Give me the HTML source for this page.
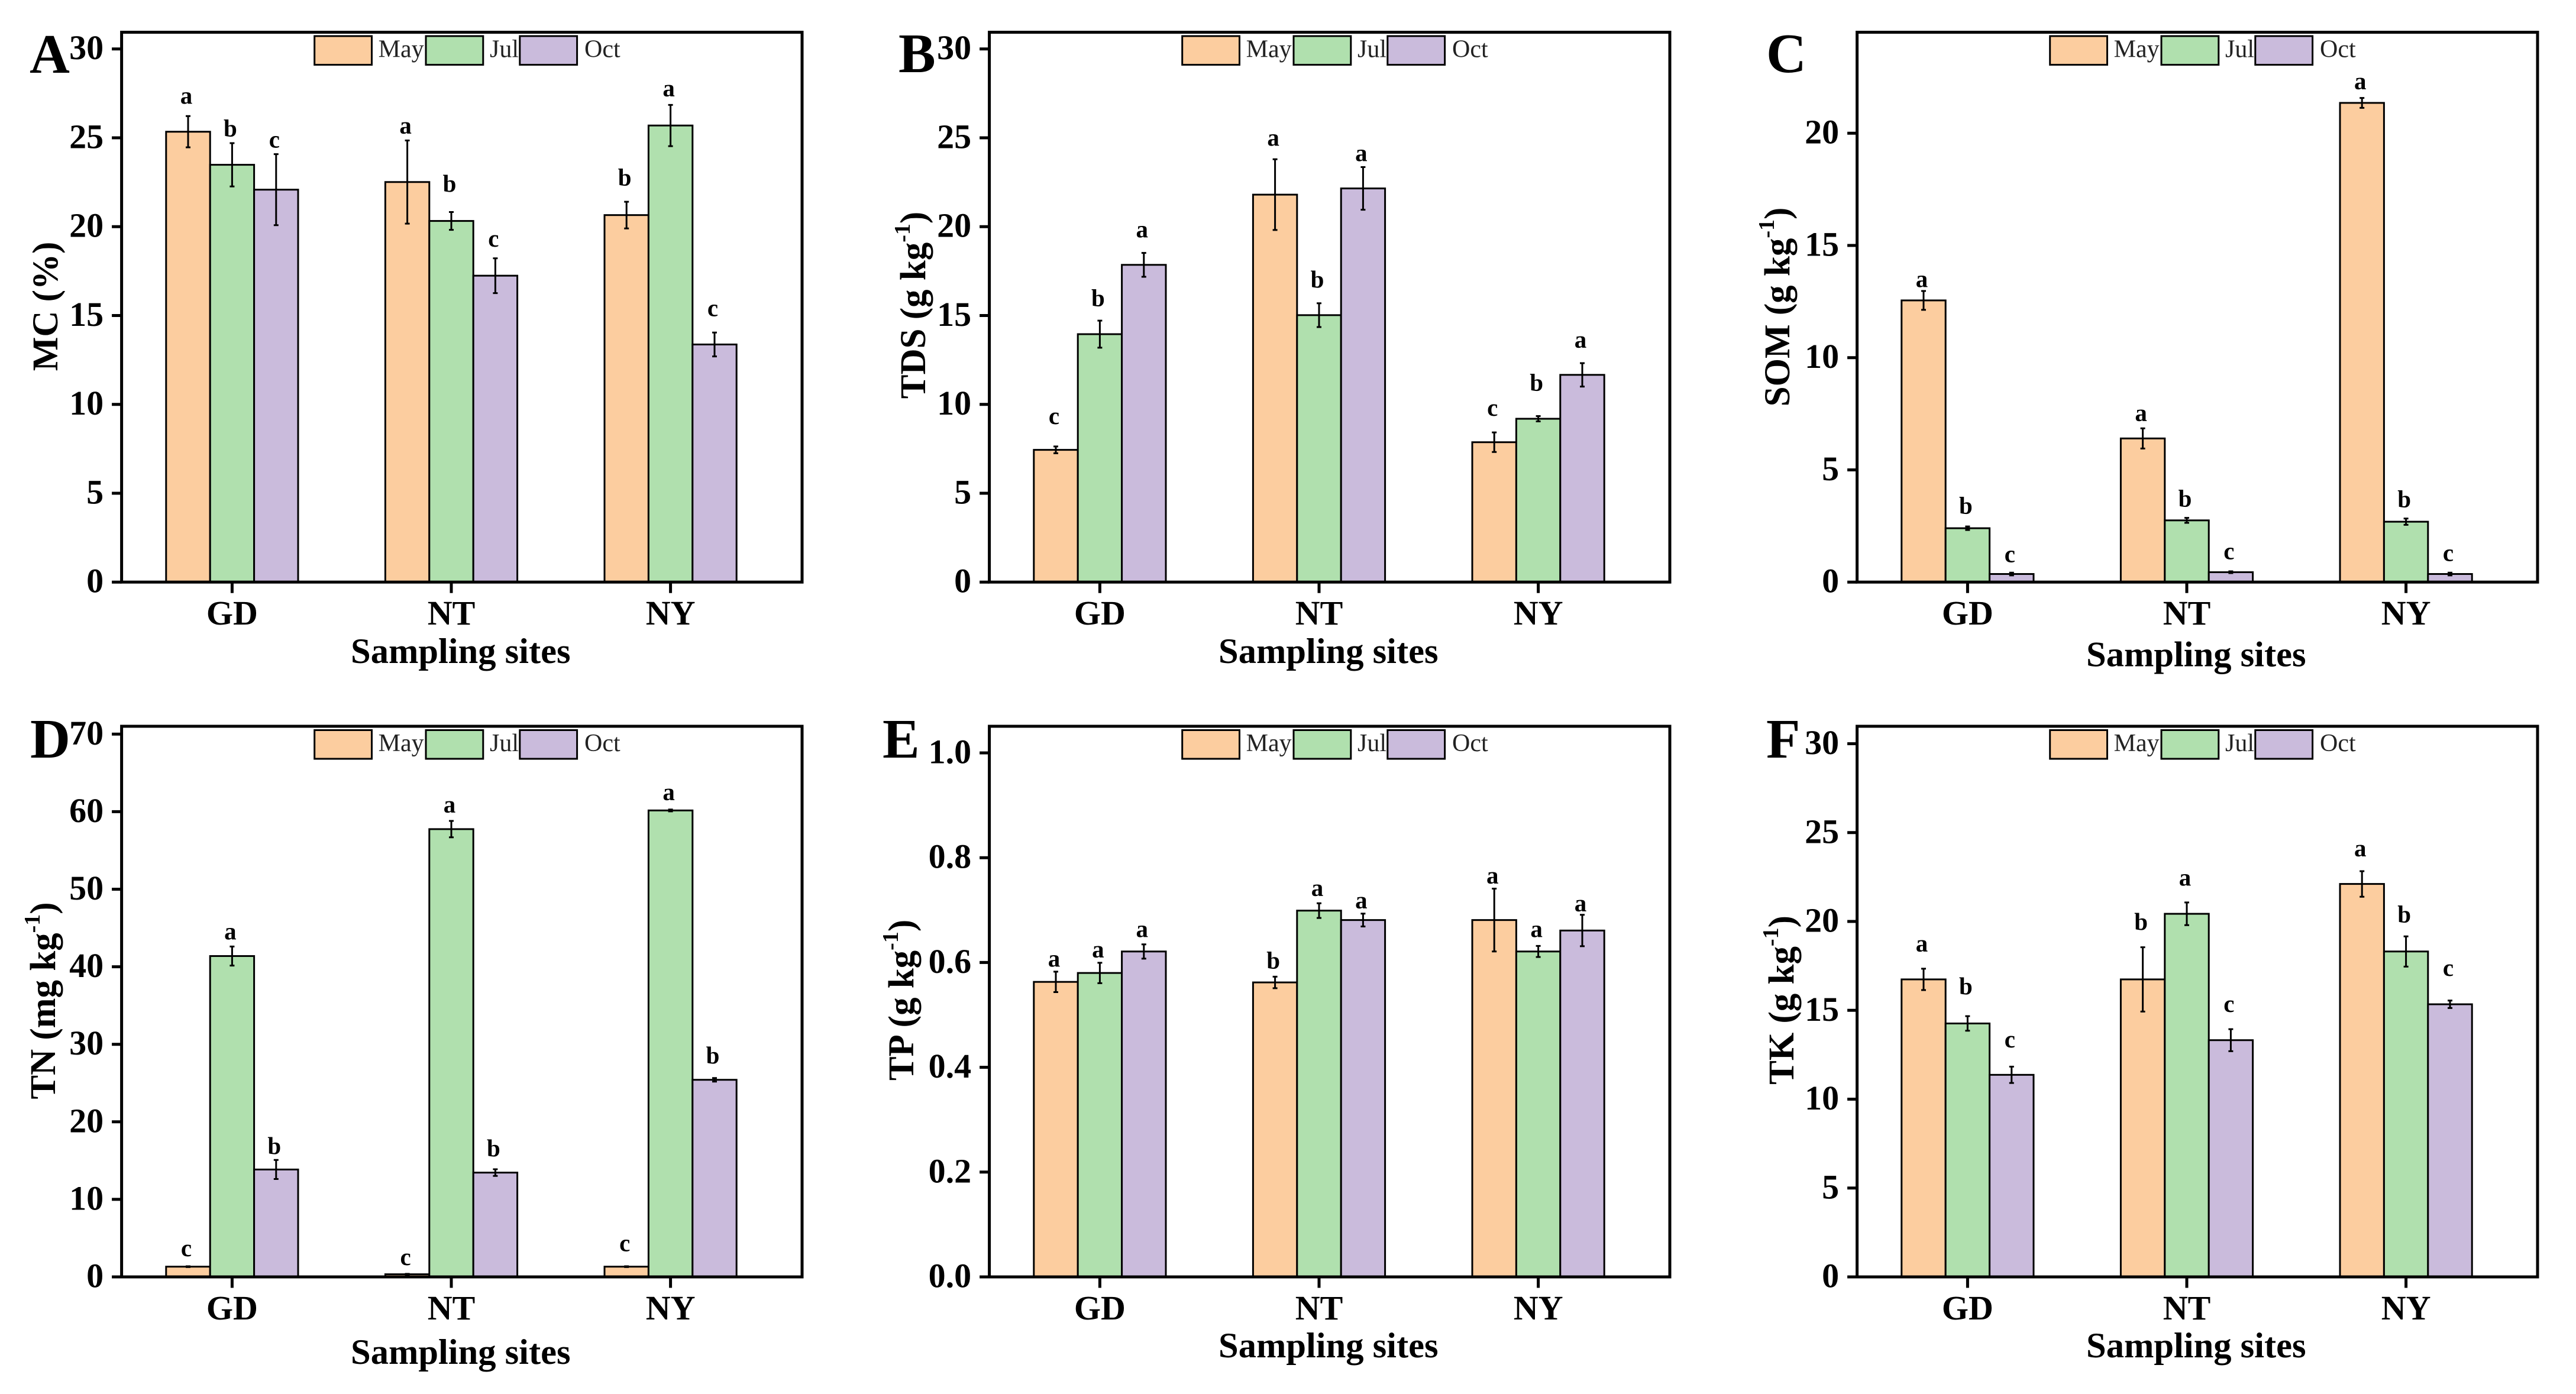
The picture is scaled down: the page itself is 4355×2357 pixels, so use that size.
<!DOCTYPE html>
<html lang="en">
<head>
<meta charset="utf-8">
<title>Soil properties by sampling site and month</title>
<style>
html,body{margin:0;padding:0;background:#fff;}
svg{display:block;font-family:"Liberation Serif",serif;}
</style>
</head>
<body>
<svg id="figure" xmlns="http://www.w3.org/2000/svg" width="4355" height="2357" viewBox="0 0 4355 2357"></svg>
<script>
const categories = ['GD', 'NT', 'NY'];
const seasons = ['May', 'Jul', 'Oct'];

const mcMay = [25.34, 22.51, 20.65];
const mcJul = [23.48, 20.32, 25.69];
const mcOct = [22.08, 17.24, 13.37];
const mcErrMay = [0.88, 2.34, 0.75];
const mcErrJul = [1.22, 0.50, 1.16];
const mcErrOct = [2.00, 0.98, 0.67];
const mcLetterMay = ['a', 'a', 'b'];
const mcLetterJul = ['b', 'b', 'a'];
const mcLetterOct = ['c', 'c', 'c'];
const mcClearMay = [1.02, 0.71, 1.25];
const mcClearJul = [0.71, 1.48, 0.81];
const mcClearOct = [0.71, 0.99, 1.25];
const mcTicks = ['0', '5', '10', '15', '20', '25', '30'];

const tdsMay = [7.44, 21.80, 7.87];
const tdsJul = [13.95, 15.02, 9.19];
const tdsOct = [17.85, 22.15, 11.66];
const tdsErrMay = [0.19, 1.99, 0.55];
const tdsErrJul = [0.76, 0.67, 0.15];
const tdsErrOct = [0.67, 1.20, 0.66];
const tdsLetterMay = ['c', 'a', 'c'];
const tdsLetterJul = ['b', 'b', 'b'];
const tdsLetterOct = ['a', 'a', 'a'];
const tdsClearMay = [1.60, 1.09, 1.27];
const tdsClearJul = [1.15, 1.22, 1.76];
const tdsClearOct = [1.20, 0.66, 1.20];
const tdsTicks = ['0', '5', '10', '15', '20', '25', '30'];

const somMay = [12.55, 6.40, 21.35];
const somJul = [2.40, 2.75, 2.69];
const somOct = [0.36, 0.44, 0.36];
const somErrMay = [0.42, 0.45, 0.22];
const somErrJul = [0.08, 0.11, 0.14];
const somErrOct = [0.06, 0.04, 0.06];
const somLetterMay = ['a', 'a', 'a'];
const somLetterJul = ['b', 'b', 'b'];
const somLetterOct = ['c', 'c', 'c'];
const somClearMay = [0.44, 0.59, 0.65];
const somClearJul = [0.83, 0.77, 0.77];
const somClearOct = [0.73, 0.80, 0.79];
const somTicks = ['0', '5', '10', '15', '20'];

const tnMay = [1.32, 0.34, 1.32];
const tnJul = [41.38, 57.75, 60.16];
const tnOct = [13.85, 13.45, 25.42];
const tnErrMay = [0.05, 0.05, 0.05];
const tnErrJul = [1.23, 1.06, 0.12];
const tnErrOct = [1.23, 0.43, 0.23];
const tnLetterMay = ['c', 'c', 'c'];
const tnLetterJul = ['a', 'a', 'a'];
const tnLetterOct = ['b', 'b', 'b'];
const tnClearMay = [2.06, 1.90, 2.70];
const tnClearJul = [1.66, 1.83, 1.95];
const tnClearOct = [1.55, 2.46, 2.63];
const tnTicks = ['0', '10', '20', '30', '40', '50', '60', '70'];

const tpMay = [0.563, 0.562, 0.681];
const tpJul = [0.580, 0.699, 0.621];
const tpOct = [0.621, 0.681, 0.661];
const tpErrMay = [0.0195, 0.011, 0.060];
const tpErrJul = [0.0195, 0.014, 0.0106];
const tpErrOct = [0.0136, 0.0123, 0.030];
const tpLetterMay = ['a', 'b', 'a'];
const tpLetterJul = ['a', 'a', 'a'];
const tpLetterOct = ['a', 'a', 'a'];
const tpClearMay = [0.021, 0.027, 0.021];
const tpClearJul = [0.021, 0.025, 0.028];
const tpClearOct = [0.025, 0.021, 0.018];
const tpTicks = ['0.0', '0.2', '0.4', '0.6', '0.8', '1.0'];

const tkMay = [16.74, 16.74, 22.11];
const tkJul = [14.26, 20.43, 18.31];
const tkOct = [11.37, 13.32, 15.34];
const tkErrMay = [0.60, 1.81, 0.72];
const tkErrJul = [0.41, 0.64, 0.85];
const tkErrOct = [0.46, 0.62, 0.21];
const tkLetterMay = ['a', 'b', 'a'];
const tkLetterJul = ['b', 'a', 'b'];
const tkLetterOct = ['c', 'c', 'c'];
const tkClearMay = [1.30, 1.32, 1.17];
const tkClearJul = [1.57, 1.27, 1.12];
const tkClearOct = [1.42, 1.30, 1.72];
const tkTicks = ['0', '5', '10', '15', '20', '25', '30'];

const seasonColors = ['#FCCD9F', '#B0E0AE', '#CABBDC'];
const SVGNS = 'http://www.w3.org/2000/svg';
const figure = document.getElementById('figure');

const panels = [
  { key: 'a', letter: 'A', dx: 0, top: 54.5, base: 984.2, unit: 30.05, lx: 50, ly: 123, title: 'MC (%)', sup: false, tx: 97, ty: 518, xt: 1121, xl: 1056,
    vals: [mcMay, mcJul, mcOct], errs: [mcErrMay, mcErrJul, mcErrOct], letters: [mcLetterMay, mcLetterJul, mcLetterOct], clears: [mcClearMay, mcClearJul, mcClearOct], ticks: mcTicks },
  { key: 'b', letter: 'B', dx: 1467, top: 54.5, base: 984.2, unit: 30.05, lx: 1519, ly: 122, title: 'TDS (g kg', sup: true, tx: 1564, ty: 516, xt: 1121, xl: 1056,
    vals: [tdsMay, tdsJul, tdsOct], errs: [tdsErrMay, tdsErrJul, tdsErrOct], letters: [tdsLetterMay, tdsLetterJul, tdsLetterOct], clears: [tdsClearMay, tdsClearJul, tdsClearOct], ticks: tdsTicks },
  { key: 'c', letter: 'C', dx: 2934, top: 54.5, base: 984.2, unit: 37.95, lx: 2986, ly: 122, title: 'SOM (g kg', sup: true, tx: 3025, ty: 519, xt: 1126.5, xl: 1056,
    vals: [somMay, somJul, somOct], errs: [somErrMay, somErrJul, somErrOct], letters: [somLetterMay, somLetterJul, somLetterOct], clears: [somClearMay, somClearJul, somClearOct], ticks: somTicks },
  { key: 'd', letter: 'D', dx: 0, top: 1228, base: 2159, unit: 13.11, lx: 51, ly: 1281, title: 'TN (mg kg', sup: true, tx: 93, ty: 1692, xt: 2306, xl: 2231,
    vals: [tnMay, tnJul, tnOct], errs: [tnErrMay, tnErrJul, tnErrOct], letters: [tnLetterMay, tnLetterJul, tnLetterOct], clears: [tnClearMay, tnClearJul, tnClearOct], ticks: tnTicks },
  { key: 'e', letter: 'E', dx: 1467, top: 1228, base: 2159, unit: 886, lx: 1492, ly: 1281, title: 'TP (g kg', sup: true, tx: 1544, ty: 1691, xt: 2295, xl: 2231,
    vals: [tpMay, tpJul, tpOct], errs: [tpErrMay, tpErrJul, tpErrOct], letters: [tpLetterMay, tpLetterJul, tpLetterOct], clears: [tpClearMay, tpClearJul, tpClearOct], ticks: tpTicks },
  { key: 'f', letter: 'F', dx: 2934, top: 1228, base: 2159, unit: 30.05, lx: 2986, ly: 1281, title: 'TK (g kg', sup: true, tx: 3032, ty: 1691, xt: 2295, xl: 2231,
    vals: [tkMay, tkJul, tkOct], errs: [tkErrMay, tkErrJul, tkErrOct], letters: [tkLetterMay, tkLetterJul, tkLetterOct], clears: [tkClearMay, tkClearJul, tkClearOct], ticks: tkTicks }
];

const FRAME_LEFT = 205.6;
const FRAME_RIGHT = 1356;
const FIRST_GROUP = 186.8;
const GROUP_STEP = 370.6;
const BAR_WIDTH = 74.4;

function make(tag, attrs, parent, text) {
  const node = document.createElementNS(SVGNS, tag);
  for (const k in attrs) node.setAttribute(k, attrs[k]);
  if (text !== undefined) node.textContent = text;
  parent.appendChild(node);
  return node;
}
function yScale(p, v) { return p.base - v * p.unit; }
function xGroup(p, site) { return p.dx + FRAME_LEFT + FIRST_GROUP + GROUP_STEP * site; }
function xBar(p, site, season) { return xGroup(p, site) + (season - 1.5) * BAR_WIDTH; }

panels.forEach(function (p) {
  const g = make('g', {}, figure);
  
  
  const left = p.dx + FRAME_LEFT;
  const right = p.dx + FRAME_RIGHT;

  // bars
  seasons.forEach(function (season, s) {
    categories.forEach(function (cat, c) {
      const v = p.vals[s][c];
      const bar = make('rect', { x: xBar(p, c, s), y: yScale(p, v), width: BAR_WIDTH, height: v * p.unit, fill: seasonColors[s], stroke: '#000', 'stroke-width': 3 }, g);
      
      
    });
  });

  // error bars and significance letters
  seasons.forEach(function (season, s) {
    categories.forEach(function (cat, c) {
      const v = p.vals[s][c];
      const e = p.errs[s][c];
      const cx = xBar(p, c, s) + BAR_WIDTH / 2;
      const yHi = yScale(p, v + e);
      const yLo = yScale(p, v - e);
      const whisker = make('path', { d: 'M' + cx + ' ' + yHi + 'V' + yLo + 'M' + (cx - 4) + ' ' + yHi + 'H' + (cx + 4) + 'M' + (cx - 4) + ' ' + yLo + 'H' + (cx + 4), fill: 'none', stroke: '#000', 'stroke-width': 3 }, g);
      
      
      const label = make('text', { x: cx - 3, y: yScale(p, v + e + p.clears[s][c]) + 10, 'text-anchor': 'middle', 'font-size': 41, 'font-weight': 'bold', fill: '#000' }, g, p.letters[s][c]);
      
      
    });
  });

  // frame
  const frame = make('rect', { x: left, y: p.top, width: right - left, height: p.base - p.top, fill: 'none', stroke: '#000', 'stroke-width': 5 }, g);
  
  

  // y ticks
  const step = p.ticks.length > 1 ? Number(p.ticks[1]) - Number(p.ticks[0]) : 1;
  p.ticks.forEach(function (t, i) {
    const yy = yScale(p, step * i);
    const tick = make('line', { x1: left - 16.5, x2: left, y1: yy, y2: yy, stroke: '#000', 'stroke-width': 5 }, g);
    
    
    const tl = make('text', { x: left - 30.5, y: yy + 17.5, 'text-anchor': 'end', 'font-size': 58, 'font-weight': 'bold', fill: '#000' }, g, t);
    
    
  });

  // x ticks
  categories.forEach(function (cat, c) {
    const xx = xGroup(p, c);
    const tick = make('line', { x1: xx, x2: xx, y1: p.base, y2: p.base + 18.5, stroke: '#000', 'stroke-width': 5 }, g);
    
    
    const tl = make('text', { x: xx, y: p.xl, 'text-anchor': 'middle', 'font-size': 58, 'font-weight': 'bold', fill: '#000' }, g, cat);
    
    
  });

  // x axis title
  const xTitle = make('text', { x: (left + right) / 2 - 2, y: p.xt, 'text-anchor': 'middle', 'font-size': 60.5, 'font-weight': 'bold', fill: '#000' }, g, 'Sampling sites');
  
  

  // y axis title
  const yTitle = make('text', { transform: 'translate(' + p.tx + ' ' + p.ty + ') rotate(-90)', 'text-anchor': 'middle', 'font-size': 61, 'font-weight': 'bold', fill: '#000' }, g);
  
  
  make('tspan', {}, yTitle, p.title);
  if (p.sup) {
    make('tspan', { 'font-size': 38, dy: -26 }, yTitle, '-1');
    make('tspan', { dy: 26 }, yTitle, ')');
  }

  // panel letter
  const tag = make('text', { x: p.lx, y: p.ly, 'font-size': 94, 'font-weight': 'bold', fill: '#000' }, g, p.letter);
  
  

  // legend
  const legendSwatchX = [531.7, 720, 878.8];
  const legendTextX = [639.6, 828, 988];
  const lg = make('g', {}, g);
  
  
  seasons.forEach(function (season, s) {
    const sw = make('rect', { x: p.dx + legendSwatchX[s], y: p.top + 6.5, width: 96.8, height: 48.5, fill: seasonColors[s], stroke: '#000', 'stroke-width': 3 }, lg);
    
    
    const lt = make('text', { x: p.dx + legendTextX[s], y: p.top + 42, 'font-size': 42, fill: '#222' }, lg, season);
    
    
  });
});
</script>
</body>
</html>
